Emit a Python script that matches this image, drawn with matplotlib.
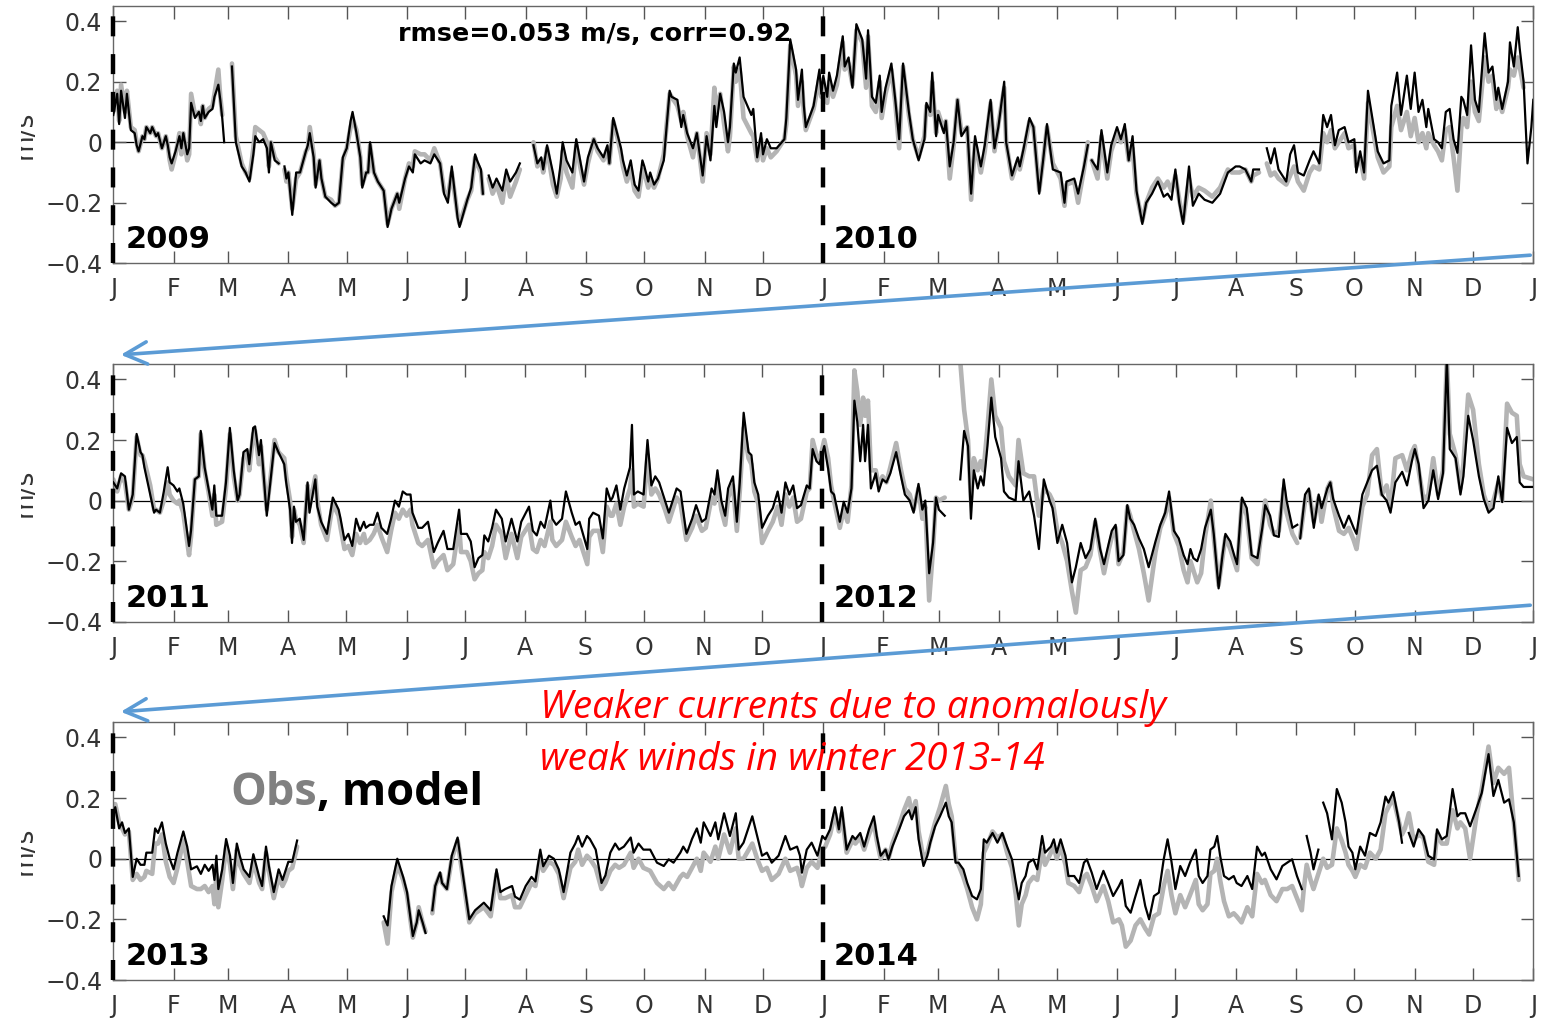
import numpy as np
import matplotlib
matplotlib.use('Agg')
import matplotlib.pyplot as plt
from matplotlib.transforms import Bbox, TransformedBbox

nan = np.nan

# days since 1 Jan of the first year, model (black) and obs (grey) in m/s
days_0910 = [0, 2, 3, 4, 6, 7, 9, 11, 12, 13,
             15, 16, 17, 19, 20, 22, 23, 25, 27, 28,
             29, 30, 32, 34, 35, 36, 38, 39, 40, 42,
             44, 45, 46, 47, 49, 51, 52, 54, 55, 56,
             57, 59, 61, 63, 66, 68, 70, 72, 73, 75,
             77, 79, 80, 81, 83, 85, 86.5, 88, 89, 90,
             92, 94, 96, 99, 100, 101, 103, 104, 106, 107,
             109, 112, 114, 116, 118, 120, 122, 123, 125, 127,
             128, 130, 131, 132, 134, 136, 139, 141, 143, 146,
             147, 150, 152, 154, 155, 158, 160, 163, 165, 168,
             170, 172, 174, 177, 178, 182, 184, 186, 187, 189,
             190, 191.5, 193, 195, 197, 200, 202, 204, 207, 209,
             212, 216, 218, 220, 221, 223, 226, 228, 230, 231,
             233, 236, 238, 240, 242, 244, 247, 249, 252, 254,
             255, 257, 259, 261, 262, 264, 266, 268, 270, 272,
             273, 275, 276, 278, 280, 283, 286, 287, 290, 292,
             293, 295, 298, 300, 303, 305, 307, 309, 310, 312,
             314, 316, 317, 319, 320, 322, 324, 328, 329, 331,
             333, 334, 336, 338, 341, 345, 346, 348, 351, 352,
             354, 355, 356, 360, 363, 364, 365, 367, 368, 370,
             372, 375, 376, 378, 380, 382, 385, 387, 388, 390,
             392, 394, 395, 397, 400, 402, 404, 406, 409, 411,
             414, 417, 418, 420, 421, 423, 424, 427, 428, 430,
             432, 434, 436, 439, 441, 443, 446, 448, 451, 453,
             455, 458, 459, 462, 465, 466, 468, 471, 473, 476,
             478, 480, 483, 487, 489, 490, 494, 496, 499, 501,
             502, 503, 506, 508, 511, 513, 516, 518, 520, 522,
             524, 526, 529, 531, 534, 537, 540, 542, 544, 546,
             548, 550, 553, 555, 558, 561, 565, 569, 573, 575,
             577, 579, 582, 585, 586, 589, 591, 593, 595, 597,
             599, 603, 605, 607, 609, 612, 615, 617, 620, 622,
             624, 626, 628, 630, 633, 635, 638, 639, 641, 643,
             645, 647, 650, 653, 656, 657, 660, 662, 665, 667,
             669, 671, 673, 675, 676, 679, 681, 683, 685, 687,
             689, 691, 693, 694, 696, 698, 700, 702, 705, 707,
             709, 711, 712, 714, 717, 718, 720, 722, 723, 725,
             727, 729, 730]
model_0910 = [.09, .16, .06, .17, .08, .16, .04, .03, -.01, -.03,
              .02, .01, .05, .03, .05, .02, .03, -.02, .02, -.01,
              -.05, -.07, -.03, .02, -.02, .03, -.04, -.02, .13, .08,
              .10, .07, .12, .08, .10, .11, .15, .19, .14, .08,
              0, nan, .25, 0, -.08, -.10, -.13, -.04, .02, 0,
              .01, -.02, -.10, 0, -.06, -.07, nan, -.08, -.12, -.10,
              -.24, -.10, -.10, -.03, -.01, .03, -.05, -.15, -.06, -.12,
              -.18, -.20, -.21, -.20, -.05, -.02, .07, .10, .03, -.05,
              -.15, -.10, -.10, 0, -.10, -.13, -.16, -.28, -.22, -.17,
              -.20, -.12, -.08, -.10, -.04, -.07, -.06, -.07, -.04, -.07,
              -.17, -.20, -.08, -.25, -.28, -.19, -.15, -.04, -.06, -.09,
              -.17, nan, -.11, -.15, -.12, -.16, -.09, -.13, -.10, -.07,
              nan, -.01, -.07, -.05, -.09, -.01, -.10, -.17, -.07, 0,
              -.06, -.10, .01, -.06, -.13, -.05, .01, -.02, -.05, -.01,
              -.07, .08, .03, -.02, -.06, -.11, -.06, -.14, -.16, -.06,
              -.08, -.13, -.10, -.14, -.12, -.06, .17, .15, .14, .05,
              .09, .03, -.02, .03, -.11, .02, -.06, .12, .05, .16,
              .10, 0, .05, .26, .23, .28, .15, .09, .11, -.05,
              .03, -.04, .01, -.02, -.02, .01, .08, .34, .24, .14,
              .24, .12, .05, .12, .24, .16, .22, .15, .23, .17,
              .22, .35, .25, .28, .18, .39, .34, .21, .37, .15,
              .13, .22, .10, .18, .26, .14, .01, .26, .10, .01,
              -.06, .01, .13, .10, .23, .02, .09, .03, .07, -.08,
              0, .14, .02, .05, -.17, .02, -.08, -.01, .14, -.02,
              .05, .20, 0, -.11, -.05, -.08, -.02, .08, .05, -.17,
              -.06, .06, -.09, -.10, -.20, -.13, -.12, -.17, -.08, -.01,
              nan, -.06, -.09, .04, -.10, -.01, .05, .01, .06, -.06,
              .02, -.16, -.27, -.20, -.17, -.13, -.18, -.17, -.19, -.09,
              -.20, -.27, -.08, -.21, -.17, -.19, -.20, -.17, -.10, -.09,
              -.08, -.08, -.09, -.13, -.09, -.09, nan, -.02, -.07, -.02,
              -.09, -.13, -.04, -.01, -.10, -.11, -.06, -.03, -.07, .09,
              .05, .09, -.01, .04, .05, 0, .01, -.10, -.03, -.10,
              .17, .09, -.03, -.07, -.06, .12, .23, .09, .22, .11,
              .23, .10, .14, .05, .11, .01, 0, -.02, .10, .11,
              .01, -.035, .15, .14, .09, .32, .14, .10, .36, .23,
              .25, .14, .18, .11, .20, .33, .25, .38, .31, .20,
              -.07, .05, .14]
obs_0910 = [.10, .17, .07, .19, .10, .17, .05, .04, 0, -.03,
            .02, .01, .05, .03, .05, .02, .03, -.02, .02, -.01,
            -.06, -.09, -.04, .03, -.04, .03, -.06, -.04, .16, .09,
            .10, .06, .12, .08, .11, .12, .16, .24, .15, .09,
            nan, nan, .26, .02, -.07, -.10, -.12, -.02, .05, .04,
            .03, 0, -.08, 0, -.05, -.07, nan, -.09, -.13, -.10,
            -.22, -.12, -.10, -.03, -.02, .05, -.04, -.14, -.06, -.12,
            -.18, -.19, -.21, -.20, -.06, -.02, .05, .08, .04, -.05,
            -.14, -.10, -.10, -.01, -.10, -.13, -.16, -.27, -.22, -.17,
            -.22, -.12, -.07, -.08, -.03, -.04, -.04, -.06, -.02, -.07,
            -.16, -.18, -.10, -.24, -.27, -.19, -.16, -.05, -.07, -.10,
            -.17, nan, -.12, -.17, -.14, -.20, -.11, -.18, -.13, -.09,
            nan, 0, -.08, -.06, -.10, -.02, -.14, -.18, -.12, -.03,
            -.10, -.15, -.01, -.08, -.14, -.07, .01, -.03, -.06, -.02,
            -.07, .07, .02, -.04, -.08, -.13, -.09, -.16, -.18, -.09,
            -.10, -.15, -.12, -.15, -.12, -.04, .16, .15, .12, .07,
            .10, .02, -.05, .03, -.13, .03, -.04, .18, .10, .16,
            .06, -.03, .02, .25, .20, .24, .08, .03, .02, -.06,
            .01, -.06, -.02, -.05, -.03, .01, .06, .32, .22, .12,
            .20, .10, .04, .11, .21, .15, .19, .13, .20, .15,
            .19, .33, .24, .26, .19, .37, .33, .18, .35, .12,
            .10, .20, .08, .16, .24, .13, -.02, .25, .09, .01,
            -.05, .02, .12, .09, .20, .03, .10, .04, .07, -.12,
            -.01, .14, .03, .05, -.19, 0, -.10, -.03, .13, -.03,
            .06, .18, 0, -.12, -.06, -.09, -.03, .07, .05, -.16,
            -.06, .05, -.07, -.12, -.21, -.14, -.13, -.20, -.09, 0,
            nan, -.06, -.12, .02, -.12, -.03, .03, 0, .04, -.06,
            -.02, -.17, -.26, -.20, -.15, -.12, -.15, -.13, -.16, -.11,
            -.19, -.26, -.12, -.18, -.15, -.16, -.18, -.15, -.09, -.10,
            -.10, -.10, -.09, -.13, -.11, -.10, nan, -.07, -.11, -.10,
            -.12, -.14, -.11, -.08, -.13, -.16, -.10, -.08, -.09, .03,
            0, .04, -.02, 0, .03, -.02, -.01, -.08, -.05, -.12,
            .13, .06, -.05, -.10, -.08, .05, .12, .04, .10, .02,
            .08, 0, .03, -.02, .03, -.01, -.03, -.06, .04, .05,
            -.05, -.16, .05, .08, .05, .20, .10, .07, .28, .20,
            .22, .11, .15, .10, .18, .24, .22, .28, .25, .18,
            nan, nan, nan]

days_1112 = [0, 2, 4, 6, 8, 10, 12, 14, 15, 16,
             19, 21, 22, 24, 26, 28, 29, 31, 33, 34,
             36, 39, 40, 42, 44, 45, 47, 49, 51, 52,
             53, 56, 58, 59, 60, 62, 64, 65, 67, 69,
             70, 72, 73, 75, 76, 79, 81, 83, 85, 88,
             89, 91, 92, 93, 94, 96, 98, 100, 101, 104,
             105, 107, 110, 113, 116, 117, 119, 121, 123, 125,
             127, 129, 130, 132, 134, 136, 138, 141, 143, 145,
             147, 149, 151, 153, 154, 157, 159, 162, 165, 167,
             170, 172, 175, 178, 179, 182, 184, 186, 188, 190,
             191, 193, 195, 197, 200, 202, 205, 208, 210, 214,
             216, 218, 220, 222, 225, 226, 228, 231, 233, 236,
             238, 240, 244, 245, 247, 250, 252, 254, 256, 257,
             259, 261, 263, 266, 267, 268, 270, 273, 275, 277,
             279, 281, 284, 286, 290, 292, 295, 298, 300, 303,
             305, 308, 309.5, 311, 313, 315, 316.5, 319, 321, 322.5,
             324.5, 327, 328.5, 330, 332, 334, 337, 339.5, 342, 344,
             346, 348, 350, 352, 354, 357, 358.5, 360, 362, 363.5,
             366, 368, 369.5, 371, 374, 376, 378, 380, 381.5, 383,
             384.5, 386, 387, 388.5, 390, 392.5, 394, 396, 398, 400,
             403, 405.5, 407.5, 410, 412, 414.5, 416.5, 418, 420, 422,
             423.5, 425, 428, 432, 436, 438, 440, 441.5, 443, 445,
             446.5, 448, 450, 452, 454, 457, 458.5, 461, 464.5, 466,
             468.5, 471.5, 474, 476.5, 479, 482, 483.5, 486, 488.5, 491,
             493.5, 495.5, 498, 500.5, 503, 505.5, 508, 510, 512.5, 514,
             516, 517.5, 520, 522, 523.5, 525.5, 528, 530.5, 533, 536.5,
             539, 541.5, 543.5, 546, 548.5, 551, 553, 554.5, 556, 558,
             560, 562, 565, 566.5, 569, 571, 572.5, 575, 577, 578.5,
             581, 583.5, 586, 589, 591.5, 593, 595.5, 597.5, 600, 602.5,
             604, 607, 609.5, 610.3, 611, 613.5, 615.5, 618, 620.5, 622,
             625, 626.5, 628, 631, 633.5, 636, 638.5, 640, 643, 645.5,
             648, 650.5, 653, 655.5, 657.5, 660, 663.5, 666, 668.5, 670,
             672, 674.5, 677, 679.5, 682, 684.5, 686.5, 688, 691, 693.5,
             695, 697.5, 700, 703, 705.5, 708, 710.5, 713, 715, 717.5,
             720, 722.5, 724, 726, 731]
model_1112 = [.06, .04, .09, .08, -.03, .02, .22, .16, .15, .11,
              .02, -.04, -.03, -.04, .03, .11, .06, .05, .03, .04,
              -.01, -.15, -.10, .07, .08, .23, .11, .04, -.03, .05,
              -.05, -.05, .06, .15, .24, .10, 0, .02, .16, .17,
              .12, .24, .245, .15, .20, -.05, .07, .19, .16, .12,
              .06, -.03, -.14, -.02, -.07, -.06, -.13, .06, -.04, .07,
              -.02, -.07, -.11, .01, -.03, -.06, -.13, -.11, -.15, -.06,
              -.10, -.07, -.09, -.08, -.08, -.04, -.09, -.11, -.06, 0,
              -.02, .03, .02, .02, -.04, -.09, -.09, -.07, -.17, -.14,
              -.10, -.16, -.16, -.03, -.11, -.11, -.135, -.22, -.19, -.18,
              -.115, -.135, -.09, -.03, -.06, -.135, -.06, -.135, -.07, -.02,
              -.10, -.115, -.07, -.09, 0, -.06, -.08, -.06, .03, -.04,
              -.08, -.07, -.16, -.06, -.04, -.05, -.125, .04, 0, .01,
              .05, -.03, .04, .11, .25, .02, .03, .02, .20, .05,
              .08, .06, 0, -.04, .04, .03, -.11, -.06, -.015, -.07,
              -.06, .04, .02, .10, 0, -.05, .04, .08, -.07, .06,
              .29, .16, .15, .06, .02, -.09, -.05, -.025, .03, -.04,
              .06, .02, .05, -.025, -.015, .05, .04, .17, .13, .12,
              .18, .105, .03, .02, -.07, -.004, -.04, .04, .33, .26,
              .13, .25, .13, .25, .04, .09, .03, .07, .06, .09,
              .16, .08, .02, 0, -.04, .055, -.03, 0, -.24, -.14,
              .01, -.03, -.05, nan, .07, .23, .18, -.06, .10, .04,
              .08, .05, .18, .34, .21, .14, .03, .01, 0, .13,
              0, .03, -.05, -.16, .07, 0, -.025, -.14, -.08, -.14,
              -.27, -.22, -.14, -.19, -.16, -.06, -.16, -.21, -.14, -.10,
              -.08, -.20, -.18, -.015, -.06, -.08, -.125, -.16, -.22, -.135,
              -.08, -.04, .03, -.10, -.125, -.18, -.21, -.16, -.19, -.20,
              -.16, -.09, -.03, -.11, -.29, -.18, -.11, -.135, -.18, -.21,
              .01, -.025, -.18, -.19, -.09, -.015, -.05, -.115, -.12, .07,
              0, -.09, -.08, nan, -.125, .02, .04, -.09, .02, -.025,
              .04, .06, .005, -.05, -.09, -.05, -.09, -.11, .02, .06,
              .10, .115, .02, 0, -.04, .06, .095, .05, .13, .17,
              .12, -.025, 0, .10, .005, .09, .47, .17, .14, .02,
              .08, .28, .20, .08, .005, -.04, -.025, .08, -.005, .24,
              .19, .21, .06, .045, .045]
obs_1112 = [.07, .03, .08, .06, -.03, .01, .21, .15, .15, .13,
            .05, -.03, -.03, -.04, 0, .06, .02, 0, -.01, 0,
            -.04, -.18, -.12, .07, .08, .22, .10, .03, -.05, .02,
            -.08, -.07, .04, .13, .22, .08, 0, .02, .14, .16,
            .10, .22, .23, .12, .18, -.03, .08, .20, .16, .14,
            .08, 0, -.12, -.03, -.06, -.08, -.14, .05, -.02, .08,
            0, -.08, -.13, -.01, -.05, -.09, -.16, -.15, -.18, -.11,
            -.14, -.11, -.14, -.13, -.11, -.08, -.12, -.17, -.10, -.04,
            -.06, -.03, -.05, -.03, -.08, -.14, -.15, -.13, -.22, -.20,
            -.18, -.23, -.21, -.08, -.17, -.17, -.20, -.26, -.24, -.23,
            -.17, -.19, -.15, -.08, -.11, -.19, -.11, -.19, -.12, -.08,
            -.16, -.17, -.13, -.15, -.07, -.13, -.15, -.13, -.07, -.12,
            -.15, -.13, -.21, -.12, -.10, -.10, -.17, -.02, -.05, -.05,
            -.01, -.08, -.02, .04, .10, -.02, -.01, -.02, .15, .02,
            .04, .02, -.03, -.07, .01, -.01, -.13, -.09, -.05, -.10,
            -.09, .01, -.01, .07, -.03, -.08, .01, .05, -.10, .03,
            .24, .14, .12, .03, -.01, -.14, -.10, -.07, -.02, -.08,
            .02, -.02, .01, -.07, -.06, .03, .04, .20, .15, .13,
            .20, .14, .05, 0, -.09, -.03, -.07, .05, .43, .36,
            .25, .34, .28, .33, .10, .10, .05, .08, .06, .11,
            .19, .10, .04, .02, -.03, .04, -.06, -.02, -.33, -.16,
            .01, 0, .01, nan, .46, .30, .20, 0, .14, .10,
            .13, .10, .24, .40, .28, .24, .13, .08, .05, .20,
            .09, .08, .08, -.05, .04, .02, 0, -.10, -.14, -.20,
            -.30, -.37, -.23, -.22, -.18, -.07, -.17, -.24, -.16, -.12,
            -.09, -.21, -.17, -.02, -.05, -.10, -.16, -.24, -.33, -.17,
            -.09, -.05, .01, -.11, -.15, -.23, -.27, -.20, -.23, -.27,
            -.24, -.12, 0, -.12, -.28, -.19, -.12, -.16, -.20, -.23,
            0, -.05, -.19, -.21, -.08, 0, -.08, -.11, -.10, .04,
            -.04, -.11, -.14, nan, -.12, 0, .03, -.07, .01, -.07,
            .04, .06, -.02, -.10, -.11, -.09, -.13, -.16, -.02, .02,
            .15, .17, .02, .05, -.02, .14, .15, .10, .16, .18,
            .10, 0, .02, .14, .02, .10, .47, .22, .15, .04,
            .12, .35, .30, .12, .02, -.03, 0, .06, 0, .32,
            .29, .28, .12, .08, .07]

days_1314 = [0, 1, 3, 4.5, 6, 8, 10, 12, 14, 16,
             17, 20, 21.5, 23, 25, 27, 29, 31, 33, 36,
             38, 40, 43, 45, 47, 49, 51, 52, 53, 54,
             56, 58, 60, 61.5, 63.5, 65, 67, 70, 72, 75,
             76.5, 78.5, 80, 82.5, 85, 87, 88.5, 90, 92, 94.5,
             110, 139, 141, 143, 146, 149, 151, 154, 156, 157,
             159, 160.5, 162, 164, 165.5, 168, 169, 171.5, 174, 177,
             183, 186, 190.5, 194, 197, 199, 201.5, 205, 206.5, 209,
             212, 215, 217, 219.5, 221, 224, 226.5, 229, 231.5, 235,
             237.5, 239, 241, 243.5, 245, 248, 251, 253, 255.5, 258,
             260, 262.5, 266, 267.5, 270, 272.5, 276, 279.5, 283, 285.5,
             288, 291.5, 293, 295, 297.5, 300, 302, 303.5, 307, 309.5,
             311, 314, 317, 320, 321.5, 324, 328.5, 331, 333.5, 336,
             338.5, 342, 345.5, 348, 351.5, 353, 354, 356.5, 359, 362,
             364.5, 366, 368.5, 371, 373, 374.5, 377, 380, 381.5, 384,
             386, 388.5, 391, 392.5, 394.5, 397, 398.5, 400.5, 404, 406.5,
             409, 410.5, 412.5, 414, 416.5, 418.5, 420, 422.5, 425, 428,
             429.5, 431, 433, 434.5, 437, 439, 441.5, 444, 446, 447.5,
             449, 452, 454.5, 457, 459.5, 462, 464, 465.5, 467, 469,
             470.5, 473, 475, 477.5, 479, 482, 483.5, 485, 487, 489.5,
             491, 494, 496.5, 499, 500.5, 503, 505.5, 509, 511.5, 514,
             517, 518.5, 520.5, 523, 525.5, 528, 530.5, 532.5, 535, 537.5,
             540, 542, 544, 546, 548.5, 551, 553.5, 556.5, 558, 560,
             562.5, 564, 566, 567.5, 569, 571, 573.5, 576, 577.5, 580,
             583, 585.5, 588, 590.5, 592, 595, 598, 601, 603.5, 606,
             608.5, 611, 612, 613.5, 615.5, 617, 619.5, 621, 622, 624,
             626.5, 629, 631.5, 633.5, 635, 637, 638.5, 641, 643.5, 646,
             649, 651.5, 654, 655.5, 658, 661, 662.5, 664, 666, 668.5,
             671, 673.5, 676, 679, 680.5, 683, 685.5, 688.5, 691, 692.5,
             695, 697.5, 701, 703.5, 707, 709.5, 712, 715, 717.5, 720,
             722.5]
model_1314 = [.14, .17, .10, .12, .085, .10, -.06, 0, -.02, -.02,
              .02, .02, .10, .085, .12, .05, 0, -.035, .02, .09,
              .04, -.035, -.025, -.05, -.02, -.04, -.02, -.07, .01, -.10,
              -.035, .065, .01, -.08, .05, .01, -.035, -.06, .015, -.06,
              -.09, .04, -.025, -.11, -.035, -.07, -.04, -.01, -.01, .06,
              nan, -.19, -.22, -.09, 0, -.06, -.11, -.255, -.21, -.17,
              -.21, -.245, nan, -.17, -.09, -.045, -.08, -.10, .01, .07,
              -.20, -.17, -.145, -.17, -.035, -.11, -.10, -.09, -.125, -.135,
              -.09, -.06, -.075, .03, -.025, .01, 0, -.035, -.11, .02,
              .05, .075, .04, .075, .065, .03, -.08, -.055, .02, .05,
              .03, .04, .07, .02, .05, .03, .03, -.013, -.024, -.002,
              -.013, .02, .04, .02, .065, .10, .053, .12, .075, .12,
              .064, .15, .075, .15, .03, .053, .14, .075, .01, .02,
              -.013, .01, .075, .03, .04, .01, -.046, .03, .053, .01,
              .075, .064, .097, .17, .097, .17, .03, .075, .064, .085,
              .04, .097, .14, .075, .01, .03, -.002, .04, .097, .14,
              .16, .13, .17, .064, -.024, .01, .053, .107, .14, .185,
              .14, .12, -.013, -.013, -.035, -.08, -.123, -.134, -.10, .064,
              .053, .085, .053, .085, .04, -.002, -.08, -.134, -.08, -.057,
              -.013, -.002, -.035, .075, .02, .04, .064, .02, .064, .01,
              -.057, -.057, -.08, -.013, -.002, -.046, -.10, -.04, -.08, -.123,
              -.09, -.07, -.156, -.178, -.123, -.07, -.156, -.20, -.123, -.112,
              -.002, .064, -.01, -.10, -.024, -.057, -.013, .03, -.057, -.08,
              -.057, .03, .04, .075, .01, -.057, -.068, -.057, -.08, -.09,
              -.057, -.10, .04, .01, .02, -.035, -.068, -.024, -.013, -.002,
              -.057, -.10, nan, .075, .02, -.035, .03, nan, .185, .15,
              .064, .23, .185, .12, .04, .02, -.035, .04, .01, .085,
              .075, .12, .205, .185, .22, .12, .053, nan, .085, .04,
              .097, .075, .01, -.002, .097, .064, .075, .23, .14, .15,
              .15, .107, .17, .217, .345, .207, .26, .185, .196, .12,
              -.057]
obs_1314 = [.18, .18, .12, .10, .08, .09, -.07, -.05, -.07, -.06,
            -.04, -.05, .05, .05, .08, -.01, -.06, -.08, -.03, .06,
            -.01, -.09, -.10, -.10, -.09, -.11, -.09, -.15, -.05, -.16,
            -.07, .04, -.02, -.10, .03, -.02, -.05, -.08, -.01, -.08,
            -.10, .02, -.04, -.13, -.06, -.09, -.07, -.04, -.03, .04,
            nan, -.21, -.28, -.11, -.02, -.07, -.12, -.26, -.21, -.16,
            -.21, -.24, nan, -.18, -.09, -.05, -.08, -.10, 0, .06,
            -.21, -.18, -.16, -.19, -.05, -.13, -.13, -.12, -.16, -.16,
            -.12, -.08, -.09, .01, -.04, -.01, -.02, -.05, -.13, -.03,
            -.01, .03, -.02, .01, 0, -.03, -.10, -.08, -.04, -.02,
            -.03, -.02, .02, -.03, 0, -.03, -.04, -.08, -.10, -.08,
            -.10, -.06, -.05, -.06, -.03, 0, -.04, .02, -.01, .04,
            0, .08, .02, .10, 0, 0, .05, 0, -.04, -.03,
            -.07, -.05, 0, -.04, -.03, -.06, -.09, -.03, -.01, -.03,
            .03, .04, .08, .15, .09, .15, .02, .06, .05, .07,
            .03, .08, .12, .06, 0, .03, 0, .05, .11, .16,
            .20, .15, .19, .09, 0, .02, .06, .12, .17, .24,
            .18, .14, 0, -.02, -.06, -.10, -.16, -.20, -.15, .02,
            .04, .09, .07, .08, .02, -.03, -.12, -.22, -.15, -.12,
            -.08, -.06, -.07, .03, -.02, .02, .04, 0, .04, -.02,
            -.08, -.09, -.11, -.06, -.05, -.09, -.14, -.09, -.14, -.21,
            -.20, -.22, -.29, -.27, -.22, -.20, -.23, -.25, -.19, -.18,
            -.09, -.04, -.12, -.18, -.12, -.16, -.12, -.07, -.15, -.17,
            -.15, -.05, -.04, 0, -.07, -.14, -.19, -.18, -.19, -.21,
            -.16, -.19, -.05, -.08, -.07, -.12, -.14, -.10, -.10, -.09,
            -.13, -.17, -.10, -.02, -.07, -.10, -.05, -.02, 0, -.03,
            -.02, .10, .06, .02, -.02, -.04, -.06, -.02, -.03, .02,
            0, .03, .15, .17, .20, .12, .08, .10, .15, .06,
            .08, .07, -.01, -.02, .08, .05, .05, .16, .10, .12,
            .10, 0, .15, .23, .37, .25, .30, .28, .30, .12,
            -.07]

first_years = [2009, 2011, 2013]
month_letters = ['J', 'F', 'M', 'A', 'M', 'J', 'J', 'A', 'S', 'O', 'N', 'D']
yticks = [-0.4, -0.2, 0, 0.2, 0.4]
ytick_labels = ['\u22120.4', '\u22120.2', '0', '0.2', '0.4']

panels = [(days_0910, model_0910, obs_0910),
          (days_1112, model_1112, obs_1112),
          (days_1314, model_1314, obs_1314)]

fig = plt.figure(figsize=(15.52, 10.21), dpi=100)
W, H = 1552, 1021
# pixel boxes of the three panels: top, bottom
boxes = [(6, 263.3), (364.3, 621.7), (722.3, 980)]
left_px, right_px = 113.3, 1533.3

axes = []
for (days, model, obs), y0, (top, bot) in zip(panels, first_years, boxes):
    ax = fig.add_axes([left_px / W, 1 - bot / H, (right_px - left_px) / W, (bot - top) / H])
    axes.append(ax)
    months = np.arange(np.datetime64(f'{y0}-01'), np.datetime64(f'{y0 + 2}-02'),
                       dtype='datetime64[M]')
    mdays = (months.astype('datetime64[D]') - np.datetime64(f'{y0}-01-01')).astype(int)
    jan2 = mdays[12]

    ax.axhline(0, color='black', lw=0.9, zorder=1)
    ax.plot(days, obs, color='#b4b4b4', lw=3.3, solid_capstyle='round', zorder=2)
    ax.plot(days, model, color='black', lw=1.6, zorder=3)
    for xv in (0, jan2):
        ax.axvline(xv, color='black', lw=3.2, ls=(0, (4.5, 4.0)), zorder=5, clip_on=False)

    ax.set_xlim(0, mdays[-1])
    ax.set_ylim(-0.4, 0.45)
    ax.set_xticks(mdays)
    ax.set_xticklabels(month_letters * 2 + ['J'])
    ax.set_yticks(yticks)
    ax.set_yticklabels(ytick_labels)
    ax.tick_params(direction='in', length=9, width=1, top=True, right=True,
                   colors='#555555', labelcolor='#333333', labelsize=17)
    ax.tick_params(axis='x', pad=10)
    ax.tick_params(axis='y', pad=8)
    for s in ax.spines.values():
        s.set_color('#666666')
        s.set_linewidth(1)

    ax.text(0.009, 0.058, str(y0), transform=ax.transAxes, fontsize=22,
            fontweight='bold', va='baseline')
    ax.text(0.507, 0.058, str(y0 + 1), transform=ax.transAxes, fontsize=22,
            fontweight='bold', va='baseline')

    # y label, cut at the left like in the source picture
    lab = fig.text(38 / W, 1 - (top + bot) / 2 / H, 'm/s', rotation=90, ha='right',
                   va='center', fontsize=19, color='#333333')
    lab.set_clip_box(TransformedBbox(Bbox([[21 / W, 0], [1, 1]]), fig.transFigure))
    lab.set_clip_on(True)

axes[0].text(0.339, 0.89, 'rmse=0.053 m/s, corr=0.92', transform=axes[0].transAxes,
             ha='center', va='center', fontsize=18.3, fontweight='bold')

# "Obs, model" legend text in the last panel
fig.canvas.draw()
renderer = fig.canvas.get_renderer()
t_obs = fig.text(230 / W, 1 - 805 / H, 'Obs', fontsize=32.5, fontweight='bold',
                 color='#808080', family=['Open Sans', 'DejaVu Sans'], va='baseline')
ext = t_obs.get_window_extent(renderer)
fig.text(ext.x1 / W, 1 - 805 / H, ', model', fontsize=32.5, fontweight='bold',
         color='black', family=['Open Sans', 'DejaVu Sans'], va='baseline')

note = ['Weaker currents due to anomalously', 'weak winds in winter 2013-14']
for line, base in zip(note, (718, 770)):
    fig.text(540 / W, 1 - base / H, line, fontsize=27.8, style='italic', color='#ff0000',
             family=['Open Sans', 'DejaVu Sans'], va='baseline')

# arrows from the end of one row to the start of the next
for tail, head in [((1533, 1021 - 255), (118, 1021 - 355)),
                   ((1533, 1021 - 605), (118, 1021 - 712))]:
    fig.patches.append(matplotlib.patches.FancyArrowPatch(
        tail, head, transform=None, arrowstyle='->,head_length=0.8,head_width=0.4',
        mutation_scale=20, color='#5b9bd5', lw=2.6, zorder=10))

fig.savefig('out.png', dpi=100)
